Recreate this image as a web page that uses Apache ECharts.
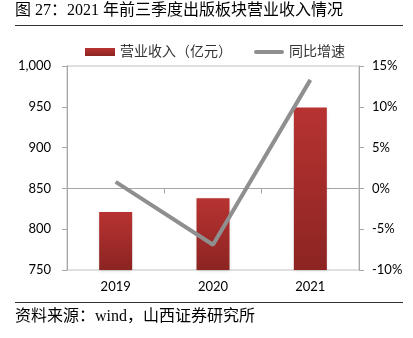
<!DOCTYPE html>
<html><head><meta charset="utf-8">
<script src="https://cdn.jsdelivr.net/npm/echarts@6/dist/echarts.min.js"></script>
<style>html,body{margin:0;padding:0;background:#fff}#c{width:413px;height:338px}</style>
</head><body><div id="c"></div>
<script>
const categories = ['2019', '2020', '2021'];
const revenue = [821, 838, 949];
const growth = [0.8, -6.9, 13.3];
const leftTicks = { min: 750, max: 1000, interval: 50 };
const rightTicks = { min: -10, max: 15, interval: 5 };
const titleText = '图 27：2021 年前三季度出版板块营业收入情况';
const sourceText = '资料来源：wind，山西证券研究所';
const seriesNames = ['营业收入（亿元）', '同比增速'];

const chart = echarts.init(document.getElementById('c'), null, { renderer: 'canvas' });
const axisFont = 'Lato, "Noto Sans", sans-serif';
const cjkFont = '"Liberation Serif", "Noto Sans CJK SC", serif';
chart.setOption({
  animation: false,
  backgroundColor: '#fff',
  graphic: [
    { type: 'text', left: 15, top: 3, style: { text: titleText, font: '16px ' + cjkFont, fill: '#000' } },
    { type: 'line', shape: { x1: 15, y1: 25.5, x2: 403, y2: 25.5 }, style: { stroke: '#333', lineWidth: 1 } },
    { type: 'line', shape: { x1: 15, y1: 302.5, x2: 403, y2: 302.5 }, style: { stroke: '#333', lineWidth: 1 } },
    { type: 'text', left: 15, top: 309, style: { text: sourceText, font: '16px ' + cjkFont, fill: '#000' } }
  ],
  legend: {
    top: 40, left: 80, itemGap: 22, itemWidth: 30, itemHeight: 8,
    textStyle: { fontFamily: cjkFont, fontSize: 14, color: '#333' },
    data: [
      { name: seriesNames[0], icon: 'rect' },
      { name: seriesNames[1], icon: 'path://M2,0 L28,0 A2,2 0 0 1 28,4 L2,4 A2,2 0 0 1 2,0 Z', itemStyle: { color: '#8f8f8f' } }
    ]
  },
  grid: { left: 67, right: 54, top: 66, bottom: 68, show: true, borderColor: '#c0c0c0', borderWidth: 1 },
  xAxis: {
    type: 'category', data: categories,
    axisLine: { lineStyle: { color: '#a6a6a6' } },
    axisTick: { show: true, length: 5, lineStyle: { color: '#a6a6a6' } },
    axisLabel: { color: '#000', fontSize: 13, fontFamily: axisFont, margin: 10 }
  },
  yAxis: [
    {
      type: 'value', min: leftTicks.min, max: leftTicks.max, interval: leftTicks.interval,
      splitLine: { show: false },
      axisLine: { show: true, lineStyle: { color: '#a6a6a6' } },
      axisTick: { show: true, length: 5, lineStyle: { color: '#a6a6a6' } },
      axisLabel: { color: '#000', fontSize: 13, fontFamily: axisFont, margin: 16,
        formatter: v => v.toLocaleString('en-US') }
    },
    {
      type: 'value', min: rightTicks.min, max: rightTicks.max, interval: rightTicks.interval,
      splitLine: { show: false },
      axisLine: { show: true, lineStyle: { color: '#a6a6a6' } },
      axisTick: { show: true, length: 5, lineStyle: { color: '#a6a6a6' } },
      axisLabel: { color: '#000', fontSize: 13, fontFamily: axisFont, margin: 13, formatter: '{value}%' }
    }
  ],
  series: [
    {
      name: seriesNames[0], type: 'bar', data: revenue, barWidth: 33, yAxisIndex: 0,
      itemStyle: {
        color: new echarts.graphic.LinearGradient(0, 0, 0, 1, [
          { offset: 0, color: '#b73331' },
          { offset: 1, color: '#8c2422' }
        ]),
        shadowColor: 'rgba(0,0,0,0.15)', shadowBlur: 3, shadowOffsetY: 1
      }
    },
    {
      name: seriesNames[1], type: 'line', data: growth, yAxisIndex: 1,
      symbol: 'none', lineStyle: { color: '#8f8f8f', width: 4 }, itemStyle: { color: '#8f8f8f' }
    }
  ]
});
</script></body></html>
